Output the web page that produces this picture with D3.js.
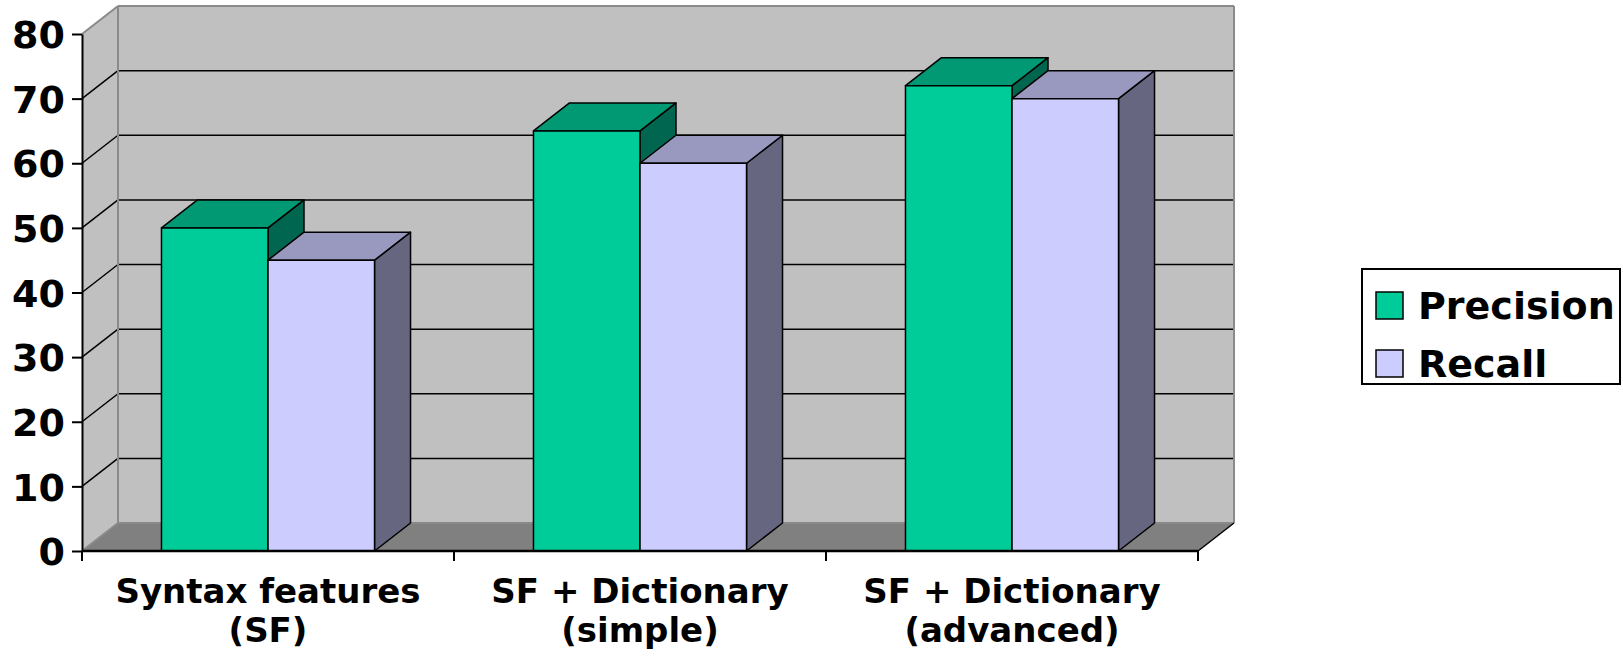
<!DOCTYPE html>
<html>
<head>
<meta charset="utf-8">
<script src="https://cdn.jsdelivr.net/npm/d3@7"></script>
<style>
  html, body { margin: 0; padding: 0; background: #fff; }
  svg { display: block; }
  text { font-family: "DejaVu Sans", Verdana, sans-serif; font-weight: bold; fill: #000; }
</style>
</head>
<body>
<svg id="chart" width="1623" height="656"></svg>
<script>
// Chart data
const categories = [["Syntax features", "(SF)"], ["SF + Dictionary", "(simple)"], ["SF + Dictionary", "(advanced)"]];
const seriesNames = ["Precision", "Recall"];
const precision = [50, 65, 72];
const recall = [45, 60, 70];
const yTicks = [0, 10, 20, 30, 40, 50, 60, 70, 80];

const seriesValues = [precision, recall];
const colors = {
  Precision: { front: "#00CC99", top: "#009973", side: "#006650" },
  Recall:    { front: "#CCCCFF", top: "#9999C0", side: "#666680" }
};

const svg = d3.select("#chart");

// Plot geometry (front plane) and 3-D depth offset
const plotLeft = 82, plotRight = 1198, plotBottom = 551, plotTop = 34;
const DX = 36, DY = 28;

const catKeys = categories.map((c, i) => i);
const x = d3.scaleBand().domain(catKeys).range([plotLeft, plotRight]).paddingInner(0).paddingOuter(0);
const xs = d3.scaleBand().domain(seriesNames).range([0, x.bandwidth()]).paddingInner(0).paddingOuter(0.746);
const y = d3.scaleLinear().domain([0, 80]).range([plotBottom, plotTop]);

const g = svg.append("g");

// Left side wall
g.append("polygon")
  .attr("points", [[plotLeft, y(0)], [plotLeft, y(80)], [plotLeft + DX, y(80) - DY], [plotLeft + DX, y(0) - DY]].join(" "))
  .attr("fill", "#C0C0C0").attr("stroke", "none");

// Back wall
g.append("rect")
  .attr("x", plotLeft + DX).attr("y", y(80) - DY)
  .attr("width", plotRight - plotLeft).attr("height", y(0) - y(80))
  .attr("fill", "#C0C0C0").attr("stroke", "none");

// Floor
g.append("polygon")
  .attr("points", [[plotLeft, y(0)], [plotRight, y(0)], [plotRight + DX, y(0) - DY], [plotLeft + DX, y(0) - DY]].join(" "))
  .attr("fill", "#808080").attr("stroke", "none");

// Gridlines on side wall and back wall
const grid = yTicks.filter(v => v > 0 && v < 80);
g.selectAll(".grid-side").data(grid).join("line")
  .attr("x1", plotLeft).attr("y1", d => y(d))
  .attr("x2", plotLeft + DX).attr("y2", d => y(d) - DY)
  .attr("stroke", "#000").attr("stroke-width", 1.5);
g.selectAll(".grid-back").data(grid).join("line")
  .attr("x1", plotLeft + DX).attr("y1", d => y(d) - DY)
  .attr("x2", plotRight + DX).attr("y2", d => y(d) - DY)
  .attr("stroke", "#000").attr("stroke-width", 1.5);

// Wall edges
const edge = "#8a8a8a";
const edges = [
  [[plotLeft, y(80)], [plotLeft + DX, y(80) - DY]],
  [[plotLeft + DX, y(80) - DY], [plotRight + DX, y(80) - DY]],
  [[plotLeft + DX, y(80) - DY], [plotLeft + DX, y(0) - DY]],
  [[plotRight + DX, y(80) - DY], [plotRight + DX, y(0) - DY]],
  [[plotLeft, y(0)], [plotLeft + DX, y(0) - DY]],
  [[plotLeft + DX, y(0) - DY], [plotRight + DX, y(0) - DY]]
];
g.selectAll(".edge").data(edges).join("line")
  .attr("x1", d => d[0][0]).attr("y1", d => d[0][1])
  .attr("x2", d => d[1][0]).attr("y2", d => d[1][1])
  .attr("stroke", edge).attr("stroke-width", 2);

// Floor right edge
g.append("line")
  .attr("x1", plotRight).attr("y1", y(0)).attr("x2", plotRight + DX).attr("y2", y(0) - DY)
  .attr("stroke", "#000").attr("stroke-width", 1.5);

// 3-D bars
const bars = g.append("g");
catKeys.forEach(ci => {
  seriesNames.forEach((s, si) => {
    const v = seriesValues[si][ci];
    const x0 = x(ci) + xs(s), x1 = x0 + xs.bandwidth();
    const y0 = y(0), y1 = y(v);
    const c = colors[s];
    const bg = bars.append("g").attr("stroke", "#000").attr("stroke-width", 1.5).attr("stroke-linejoin", "round");
    bg.append("polygon") // side
      .attr("points", [[x1, y0], [x1 + DX, y0 - DY], [x1 + DX, y1 - DY], [x1, y1]].join(" "))
      .attr("fill", c.side);
    bg.append("polygon") // top
      .attr("points", [[x0, y1], [x1, y1], [x1 + DX, y1 - DY], [x0 + DX, y1 - DY]].join(" "))
      .attr("fill", c.top);
    bg.append("rect") // front
      .attr("x", x0).attr("y", y1).attr("width", x1 - x0).attr("height", y0 - y1)
      .attr("fill", c.front);
  });
});

// Value axis
const yAxis = d3.axisLeft(y).tickValues(yTicks).tickSize(10).tickSizeOuter(0).tickPadding(7);
const ya = svg.append("g").attr("transform", `translate(${plotLeft},0)`).call(yAxis);
ya.select(".domain").attr("stroke", "#000").attr("stroke-width", 2);
ya.selectAll(".tick line").attr("stroke", "#000").attr("stroke-width", 2);
ya.selectAll(".tick text").attr("font-size", 38).attr("dy", "0.36em")
  .style("font-family", '"DejaVu Sans", Verdana, sans-serif').style("font-weight", "bold");

// Category axis: baseline, boundary ticks and two-line labels
svg.append("line")
  .attr("x1", plotLeft).attr("x2", plotRight).attr("y1", y(0)).attr("y2", y(0))
  .attr("stroke", "#000").attr("stroke-width", 2.5);
const bounds = catKeys.map(k => x(k)).concat([plotRight]);
svg.selectAll(".xtick").data(bounds).join("line")
  .attr("x1", d => d).attr("x2", d => d)
  .attr("y1", y(0)).attr("y2", y(0) + 10)
  .attr("stroke", "#000").attr("stroke-width", 2);
const labels = svg.selectAll(".xlabel").data(catKeys).join("text")
  .attr("text-anchor", "middle").attr("font-size", 34)
  .attr("x", k => x(k) + x.bandwidth() / 2).attr("y", 603);
labels.append("tspan").attr("x", k => x(k) + x.bandwidth() / 2).text(k => categories[k][0]);
labels.append("tspan").attr("x", k => x(k) + x.bandwidth() / 2).attr("dy", 39).text(k => categories[k][1]);

// Legend
const legend = svg.append("g");
legend.append("rect")
  .attr("x", 1362).attr("y", 269).attr("width", 258).attr("height", 115)
  .attr("fill", "#fff").attr("stroke", "#000").attr("stroke-width", 2);
const li = legend.selectAll(".item").data(seriesNames).join("g")
  .attr("transform", (d, i) => `translate(1376, ${319 + i * 58})`);
li.append("rect")
  .attr("x", 0).attr("y", -27).attr("width", 27).attr("height", 27)
  .attr("fill", d => colors[d].front).attr("stroke", "#000").attr("stroke-width", 1.5);
li.append("text").attr("x", 42).attr("y", 0).attr("font-size", 38).text(d => d);
</script>
</body>
</html>
